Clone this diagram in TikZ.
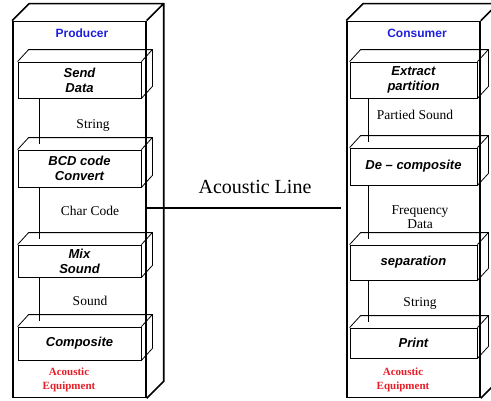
\documentclass[tikz,border=0pt]{standalone}
\usepackage{fontspec}
\setmainfont{Liberation Serif}
\setsansfont{Liberation Sans}
\usetikzlibrary{calc}
\definecolor{prodblue}{RGB}{30,30,220}
\definecolor{eqred}{RGB}{230,30,40}
\newcommand\cubefaces[3]{%
  \draw[#3] (#1.north west) -- ++(#2) -- ($(#1.north east)+(#2)$) -- ($(#1.south east)+(#2)$) -- (#1.south east)
            (#1.north east) -- ++(#2);}
\begin{document}
\begin{tikzpicture}[x=1pt,y=-1pt,
  outerbox/.style={draw,line width=1.6pt,minimum width=133pt,minimum height=376pt,inner sep=0pt},
  outerline/.style={line width=1.6pt,line join=miter},
  procbox/.style={draw,line width=0.8pt,inner sep=0pt,align=center,
    font=\sffamily\bfseries\itshape\fontsize{13}{15}\selectfont,minimum height=#1},
  lproc/.style={procbox=#1,minimum width=123pt},
  rproc/.style={procbox=#1,minimum width=127pt},
  innerline/.style={line width=0.8pt},
  conn/.style={line width=1.5pt},
  acl/.style={line width=2.4pt},
  datalabel/.style={font=\fontsize{13.5}{14.5}\selectfont,align=center,inner sep=0pt},
  title/.style={font=\sffamily\bfseries\fontsize{12}{14}\selectfont,text=prodblue,inner sep=0pt},
  equip/.style={font=\bfseries\fontsize{11}{14}\selectfont,text=eqred,align=center,inner sep=0pt}]
\useasboundingbox (0,0) rectangle (491,400);
\clip (0,0) rectangle (491,400);
% outer cuboids
\node[outerbox] (P) at (79.4,209.4) {};
\node[outerbox] (C) at (413.5,209.4) {};
\cubefaces{P}{17,-17}{outerline}
\cubefaces{C}{17,-17}{outerline}
% producer boxes
\node[lproc=36pt] (p1) at (79.5,80) {Send\\Data};
\node[lproc=37pt] (p2) at (79.5,168.5) {BCD code\\Convert};
\node[lproc=32pt] (p3) at (79.5,261) {Mix\\Sound};
\node[lproc=33pt] (p4) at (79.5,343.5) {Composite};
\foreach \n in {p1,p2,p3,p4} {\cubefaces{\n}{11,-12}{innerline}}
% consumer boxes
\node[rproc=36pt] (c1) at (413.5,80) {Extract\\partition};
\node[rproc=37pt] (c2) at (413.5,166.5) {De \textendash{} composite};
\node[rproc=35pt] (c3) at (413.5,262.5) {separation};
\node[rproc=30pt] (c4) at (413.5,343) {Print};
\foreach \n in {c1,c2,c3,c4} {\cubefaces{\n}{11,-12}{innerline}}
% connectors
\draw[conn] ($(p1.south west)+(22,0)$) -- ($(p2.north west)+(22,-6)$);
\draw[conn] ($(p2.south west)+(22,0)$) -- ($(p3.north west)+(22,-6)$);
\draw[conn] ($(p3.south west)+(22,0)$) -- ($(p4.north west)+(22,-6)$);
\draw[conn] ($(c1.south west)+(19,0)$) -- ($(c2.north west)+(19,-6)$);
\draw[conn] ($(c2.south west)+(19,0)$) -- ($(c3.north west)+(19,-6)$);
\draw[conn] ($(c3.south west)+(19,0)$) -- ($(c4.north west)+(19,-6)$);
% acoustic line
\draw[acl] ([yshift=1.3pt]P.east) -- ([xshift=-5pt,yshift=1.3pt]C.west);
\node[font=\fontsize{20}{22}\selectfont,inner sep=0pt] (al) at (255,187) {Acoustic Line};
% labels
\node[title] (pt) at (82,33) {Producer};
\node[title] (ct) at (417,33) {Consumer};
\node[datalabel] (l1) at (93,125) {String};
\node[datalabel] (l2) at (90,211) {Char Code};
\node[datalabel] (l3) at (90,301) {Sound};
\node[datalabel] (r1) at (415,115) {Partied Sound};
\node[datalabel] (r2) at (420,217) {Frequency\\Data};
\node[datalabel] (r3) at (420,303) {String};
\node[equip] (pe) at (69,380) {Acoustic\\Equipment};
\node[equip] (ce) at (403,380) {Acoustic\\Equipment};
\end{tikzpicture}
\end{document}
